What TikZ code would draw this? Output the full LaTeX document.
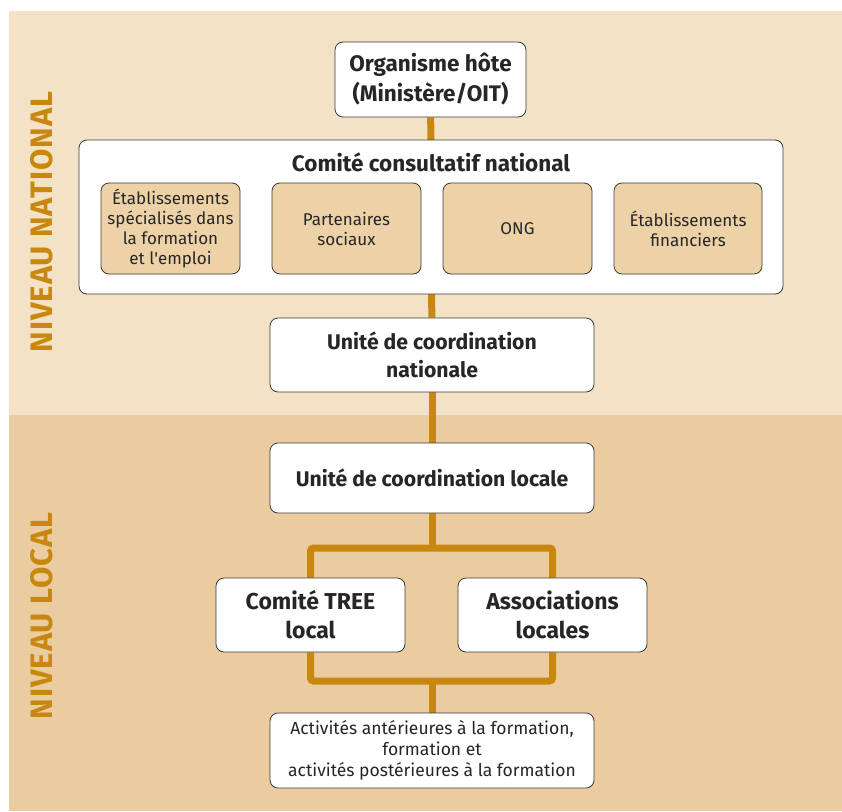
\documentclass[tikz,border=0pt]{standalone}
\usepackage{fontspec}
\setmainfont{Fira Sans}
\usetikzlibrary{backgrounds}
\definecolor{bandtop}{HTML}{F3E2C6}
\definecolor{bandlow}{HTML}{EBCCA0}
\definecolor{subfill}{HTML}{EDD2A8}
\definecolor{linkcol}{HTML}{C8880F}
\definecolor{boxborder}{HTML}{3A3A3A}
\newcommand{\fs}[2]{\fontsize{#1}{#2}\selectfont}

\begin{document}
\begin{tikzpicture}[x=1pt,y=-1pt,
    card/.style={draw=boxborder,line width=0.8pt,fill=white,rounded corners=8pt,
      align=center,inner sep=2pt,text=black!85},
    subcard/.style={card,fill=subfill,minimum width=139pt,minimum height=91pt,font=\fs{17}{20}},
    link/.style={draw=linkcol,line width=7pt},
    level/.style={rotate=90,text=linkcol,font=\bfseries\fs{31}{32}\addfontfeature{LetterSpace=3}}]
    \useasboundingbox (0,0) rectangle (842,811);

    % national level
    \node[card,minimum width=191pt,minimum height=75pt,font=\bfseries\fs{22.5}{30}] (hote) at (430.5,79.5) {Organisme hôte\\(Ministère/OIT)};
    \node[card,minimum width=704pt,minimum height=154pt] (ccn) at (431,217) {};
    \node[font=\bfseries\fs{22.5}{24},text=black!85] (ccntitle) at (431,162) {Comité consultatif national};
    \node[subcard] (etab) at (170.5,228.5) {Établissements\\spécialisés dans\\la formation\\et l\textquotesingle emploi};
    \node[subcard,minimum width=149pt] (part) at (346.5,228.5) {Partenaires\\sociaux};
    \node[subcard,minimum width=149pt] (ong) at (517.5,228.5) {ONG};
    \node[subcard,minimum width=148pt] (fin) at (688,228.5) {Établissements\\financiers};
    \node[card,minimum width=324pt,minimum height=74pt,font=\bfseries\fs{21.2}{28}] (ucn) at (432,355) {Unité de coordination\\nationale};

    % local level
    \node[card,minimum width=324pt,minimum height=70pt,font=\bfseries\fs{21.2}{28}] (ucl) at (432,478) {Unité de coordination locale};
    \node[card,minimum width=189pt,minimum height=74pt,font=\bfseries\fs{23}{29}] (tree) at (310.5,615) {Comité TREE\\local};
    \node[card,minimum width=189pt,minimum height=74pt,font=\bfseries\fs{23}{29}] (assoc) at (552.5,615) {Associations\\locales};
    \node[card,minimum width=324pt,minimum height=75pt,font=\fs{17.5}{21}] (act) at (432,750.5) {Activités antérieures à la formation,\\formation et\\activités postérieures à la formation};

    \coordinate (split) at (432,548);
    \coordinate (join) at (432,681);

    \node[level] (lnat) at (42,222) {NIVEAU NATIONAL};
    \node[level] (lloc) at (42,616) {NIVEAU LOCAL};

    \begin{scope}[on background layer]
      \fill[bandtop] (9,11) rectangle (842,415);
      \fill[bandlow] (9,415) rectangle (842,811);
      \draw[link] (hote) -- (ucn);
      \draw[link] (ucn) -- (ucl);
      \draw[link] (ucl) -- (split);
      \draw[link,rounded corners=3pt] (tree.north) |- (split) -| (assoc.north);
      \draw[link,rounded corners=3pt] (tree.south) |- (join) -| (assoc.south);
      \draw[link] (join) -- (act);
    \end{scope}
  \end{tikzpicture}
\end{document}
